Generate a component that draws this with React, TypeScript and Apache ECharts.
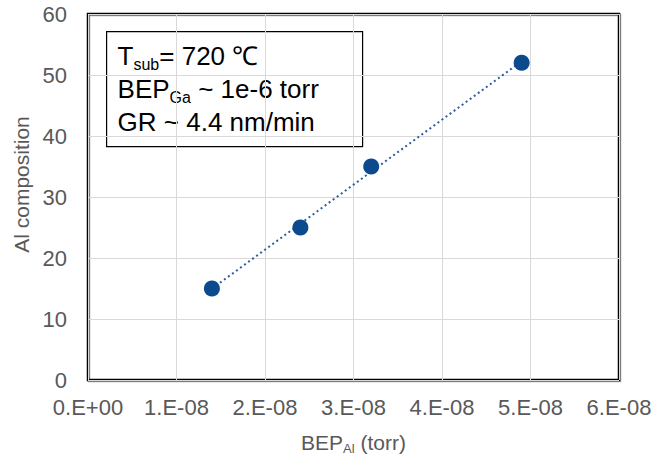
import React, { useEffect, useRef } from "react";
import * as echarts from "echarts";

// Data
const bepAl: number[] = [1.4e-8, 2.4e-8, 3.2e-8, 4.9e-8];
const alComposition: number[] = [15, 25, 35, 52];

const xMin = 0;
const xMax = 6e-8;
const xStep = 1e-8;
const yMin = 0;
const yMax = 60;
const yStep = 10;

const annotationLines: string[] = [
  "{n|T}{s|sub}{n|= 720 ℃}",
  "{n|BEP}{s|Ga}{n| ~ 1e-6 torr}",
  "{n|GR ~ 4.4 nm/min}",
];

function sciLabel(v: number): string {
  if (v === 0) return "0.E+00";
  const e = Math.floor(Math.log10(Math.abs(v)) + 1e-9);
  const m = Math.round(v / Math.pow(10, e));
  const sign = e < 0 ? "-" : "+";
  const ae = Math.abs(e);
  return `${m}.E${sign}${ae < 10 ? "0" + ae : ae}`;
}

function linearFit(xs: number[], ys: number[]) {
  const n = xs.length;
  const mx = xs.reduce((a, b) => a + b, 0) / n;
  const my = ys.reduce((a, b) => a + b, 0) / n;
  let sxy = 0;
  let sxx = 0;
  for (let i = 0; i < n; i++) {
    sxy += (xs[i] - mx) * (ys[i] - my);
    sxx += (xs[i] - mx) * (xs[i] - mx);
  }
  const slope = sxy / sxx;
  const intercept = my - slope * mx;
  return { slope, intercept };
}

export default function App() {
  const ref = useRef<HTMLDivElement>(null);

  useEffect(() => {
    if (!ref.current) return;
    const chart = echarts.init(ref.current, undefined, { renderer: "svg" });

    const fit = linearFit(bepAl, alComposition);
    const x0 = Math.min(...bepAl);
    const x1 = Math.max(...bepAl);
    const trend = [
      [x0, fit.slope * x0 + fit.intercept],
      [x1, fit.slope * x1 + fit.intercept],
    ];

    const axisFont = "'Liberation Sans', Arial, Helvetica, sans-serif";
    const grey = "#595959";

    chart.setOption({
      animation: false,
      backgroundColor: "#ffffff",
      grid: {
        left: 88,
        right: 39,
        top: 14,
        bottom: 78,
        outerBoundsMode: "none",
        containLabel: false,
        show: true,
        borderColor: "#000000",
        borderWidth: 2.5,
        shadowColor: "rgba(0,0,0,0.35)",
        shadowOffsetX: 1,
        shadowOffsetY: 1,
        shadowBlur: 1,
      },
      xAxis: {
        type: "value",
        min: xMin,
        max: xMax,
        interval: xStep,
        axisLine: { show: false },
        axisTick: { show: false },
        splitLine: { show: true, lineStyle: { color: "#d9d9d9", width: 1 } },
        axisLabel: {
          color: grey,
          fontSize: 22,
          fontFamily: axisFont,
          margin: 16,
          formatter: (v: number) => sciLabel(v),
        },
        name: "{n|BEP}{s|Al}{n| (torr)}",
        nameLocation: "middle",
        nameGap: 49,
        nameTextStyle: {
          rich: {
            n: { fontSize: 21, color: grey, fontFamily: axisFont, lineHeight: 26 },
            s: {
              fontSize: 13,
              color: grey,
              fontFamily: axisFont,
              lineHeight: 26,
              verticalAlign: "bottom",
            },
          },
        },
      },
      yAxis: {
        type: "value",
        min: yMin,
        max: yMax,
        interval: yStep,
        axisLine: { show: false },
        axisTick: { show: false },
        splitLine: { show: true, lineStyle: { color: "#d9d9d9", width: 1 } },
        axisLabel: {
          color: grey,
          fontSize: 22,
          fontFamily: axisFont,
          margin: 21,
        },
        name: "Al composition",
        nameLocation: "middle",
        nameGap: 52,
        nameTextStyle: {
          color: grey,
          fontSize: 21,
          fontFamily: axisFont,
          padding: [0, 0, 0, 25],
        },
      },
      series: [
        {
          type: "line",
          data: trend,
          showSymbol: false,
          symbol: "none",
          lineStyle: { color: "#2e5c9e", width: 2, type: [2, 3] },
          silent: true,
          z: 2,
        },
        {
          type: "scatter",
          data: bepAl.map((x, i) => [x, alComposition[i]]),
          symbol: "circle",
          symbolSize: 16,
          itemStyle: { color: "#0b4a8c", opacity: 1 },
          z: 3,
        },
      ],
      graphic: [
        {
          type: "group",
          left: 106,
          top: 31,
          z: 10,
          children: [
            {
              type: "rect",
              shape: { x: 0, y: 0, width: 256, height: 115 },
              style: { fill: "#ffffff", stroke: "#000000", lineWidth: 1.2 },
            },
            {
              type: "text",
              x: 11,
              y: 8,
              style: {
                text: annotationLines.join("\n"),
                rich: {
                  n: {
                    fontSize: 26,
                    lineHeight: 33,
                    fill: "#000000",
                    fontFamily: axisFont,
                  },
                  s: {
                    fontSize: 16,
                    lineHeight: 33,
                    fill: "#000000",
                    fontFamily: axisFont,
                    verticalAlign: "bottom",
                  },
                },
              },
            },
          ],
        },
      ],
    });

    return () => {
      chart.dispose();
    };
  }, []);

  return (
    <div
      ref={ref}
      style={{ position: "absolute", left: 0, top: 0, width: 658, height: 458 }}
    />
  );
}
